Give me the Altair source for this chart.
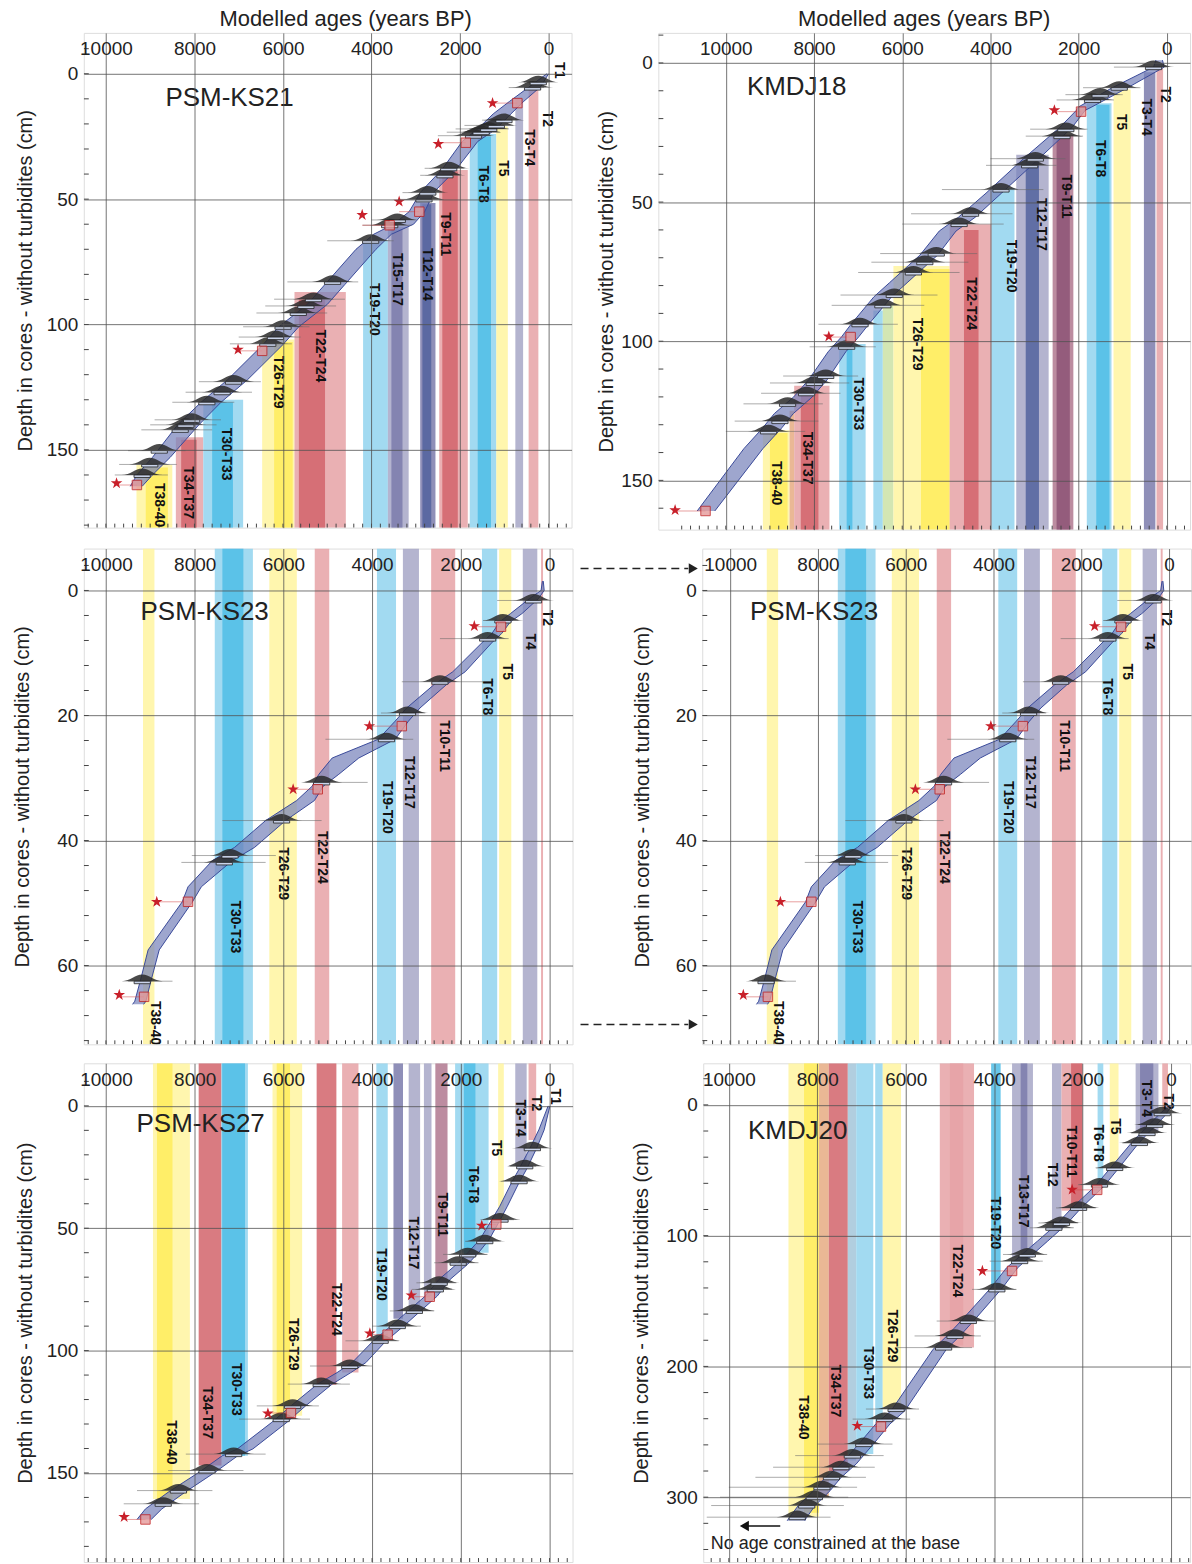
import altair as alt
import pandas as pd

FONT = "Liberation Sans"
INK = "#222222"
GRID = "#505050"

Y1 = "#fff5a0"; Y2 = "#ffec5c"; B1 = "#92d3ee"; B2 = "#4fbde6"
R1 = "#e6a2a6"; R2 = "#d2646b"; S1 = "#a7a7c7"; S2 = "#7b7bac"; S3 = "#52639e"
M1 = "#8d5475"; O1 = "#e6ab82"; G1 = "#cbe2a6"; GB = "#a3c6d9"; MR = "#b0788f"

AGE_TICKS = [10000, 8000, 6000, 4000, 2000, 0]
DEPTH_TITLE = "Depth in cores - without turbidites (cm)"

# ---------------- PSM-KS21 ----------------
ks21_bands = [  # (older age, younger age, colour, depth where band meets model)
    (9310, 8500, Y1, 156), (9100, 8600, Y2, 157),
    (8420, 7800, R1, 145), (8300, 7950, R2, 146),
    (7800, 6900, B1, 130), (7600, 7130, B2, 131),
    (6470, 5740, Y1, 106), (6200, 5780, Y2, 107),
    (5740, 4580, R1, 87), (5640, 5050, R2, 90),
    (4190, 3630, B1, 66.5),
    (3630, 3160, S1, 61), (3550, 3300, S2, 62),
    (2900, 2555, S2, 51.5), (2850, 2650, S3, 52),
    (2470, 1825, R1, 38.4), (2400, 2050, R2, 39),
    (1780, 1180, B1, 24), (1600, 1300, B2, 25),
    (1180, 920, Y1, 21),
    (750, 575, S1, 10),
    (450, 230, R1, 5.5),
]
ks21_labels = [("T1", -241, -1.4), ("T2", 43, 18), ("T3-T4", 447, 29.5), ("T5", 1024, 37.7),
               ("T6-T8", 1480, 44), ("T9-T11", 2341, 64), ("T12-T14", 2745, 80), ("T15-T17", 3417, 82),
               ("T19-T20", 3950, 94), ("T22-T24", 5155, 112.5), ("T26-T29", 6102, 123),
               ("T30-T33", 7289, 151.7), ("T34-T37", 8150, 167), ("T38-40", 8795, 172)]
ks21_env = [(0, 0, 40), (5, 170, 420), (11, 560, 880), (16, 850, 1250), (22, 1180, 1600),
            (27, 1600, 1950), (38, 2080, 2400), (47, 2580, 2880), (55, 2800, 3150), (60, 3050, 3500),
            (64, 3550, 3950), (70, 3900, 4350), (84, 4600, 5050), (92, 5000, 5450), (101, 5650, 6100),
            (108, 6000, 6450), (122, 6800, 7250), (131, 7400, 7850), (140, 7900, 8380),
            (153, 8550, 8950), (160, 8950, 9300), (164.5, 9180, 9450)]
ks21_spindles = [(232, 3.4, 0, 560), (361, 5.5, 100, 900), (1007, 18.5, 700, 1500), (1179, 20.6, 800, 1900),
                 (1351, 22, 900, 2100), (1523, 23.3, 1100, 2300), (1695, 24.7, 1300, 2500),
                 (2255, 37.7, 1900, 2800), (2341, 40.5, 2000, 2900), (2728, 47.4, 2400, 3300),
                 (2814, 50.1, 2400, 3400), (3417, 58.3, 3000, 4000), (3589, 60.4, 3100, 4200),
                 (4019, 66.6, 3500, 5000), (4880, 83, 4300, 5900), (5310, 89.9, 4600, 6200),
                 (5482, 92.6, 4800, 6400), (5654, 95.4, 5000, 6600), (5998, 100.9, 5400, 6900),
                 (6170, 105, 5600, 7000), (6343, 107.7, 5800, 7200), (7117, 122.8, 6500, 7900),
                 (7375, 127, 6700, 8200), (7720, 131, 7100, 8500), (8064, 138, 7400, 8900),
                 (8193, 140, 7500, 9000), (8322, 142, 7600, 9200), (8795, 150.3, 8200, 9500),
                 (9010, 155.8, 8400, 9700), (9182, 160, 8600, 9800)]
ks21_stars = [(1265, 11.7), (2490, 28), (3375, 51), (4210, 56.3), (7015, 110), (9760, 163.3)]
ks21_dated = [(705, 11.7), (1870, 27.5), (2920, 55), (3590, 60.4), (6470, 110.5), (9300, 164)]

# ---------------- KMDJ18 ----------------
kmdj18_bands = [
    (9160, 8555, Y1, 132), (9000, 8600, Y2, 133),
    (8555, 8450, O1, 125),
    (8450, 7650, R1, 116), (8300, 7900, R2, 118),
    (7430, 6830, B1, 101), (7260, 7130, B2, 102),
    (6655, 6440, B1, 89),
    (6440, 6200, G1, 87),
    (6200, 4925, Y1, 73), (5575, 4925, Y2, 74),
    (4925, 3975, R1, 58), (4600, 4270, R2, 60),
    (3975, 3455, B1, 45),
    (3415, 2680, S1, 33), (3200, 2900, S3, 34),
    (2590, 2120, MR, 25.7), (2500, 2200, M1, 26),
    (1815, 1255, B1, 14.5), (1600, 1300, B2, 15),
    (1210, 820, Y1, 9.5),
    (520, 260, S2, 3.3),
    (235, 85, R1, 2),
]
kmdj18_labels = [("T2", 43, 11.4), ("T3-T4", 475, 19.5), ("T5", 1037, 21.3), ("T6-T8", 1512, 34.4),
                 ("T9-T11", 2290, 48), ("T12-T17", 2852, 58), ("T19-T20", 3544, 73),
                 ("T22-T24", 4451, 86.5), ("T26-T29", 5661, 101), ("T30-T33", 7001, 122.5),
                 ("T34-T37", 8168, 142), ("T38-40", 8859, 151)]
kmdj18_env = [(-1, 100, 250), (1.5, 60, 300), (9, 900, 1250), (15.8, 1700, 2000), (17, 1850, 2050),
              (23.2, 2150, 2430), (34.4, 2900, 3250), (46.8, 3750, 4100), (55.5, 4350, 4730),
              (60.4, 4780, 5160), (69.1, 5200, 5600), (72.8, 5460, 5860), (79, 5890, 6290),
              (84, 6240, 6640), (93.9, 6760, 7160), (98.3, 6980, 7370), (103.8, 7280, 7680),
              (113.8, 7700, 8120), (120, 8040, 8460), (126, 8470, 8900), (131.1, 8730, 9160),
              (138.6, 9160, 9590), (161, 10250, 10650)]
kmdj18_spindles = [(302, 1.5, 0, 1200), (1080, 8.9, 600, 1900), (1512, 11.4, 1000, 2300),
                   (1685, 13.3, 1200, 2500), (2290, 23.8, 1800, 3100), (2377, 26.3, 1900, 3200),
                   (2982, 34.4, 2300, 4000), (3111, 36.8, 2500, 4100), (3760, 45.5, 2800, 5100),
                   (4451, 54.2, 3500, 5800), (4710, 57.9, 3700, 6000), (5229, 68.5, 4300, 6500),
                   (5488, 71.6, 4500, 6700), (5747, 75.3, 4700, 7000), (6180, 83.4, 5200, 7400),
                   (6439, 87.1, 5500, 7600), (6958, 93.9, 6100, 7900), (7260, 102, 6600, 8100),
                   (7735, 112.5, 7000, 8700), (7995, 115, 7200, 9000), (8168, 118.7, 7400, 9200),
                   (8600, 122.5, 7800, 9600), (8773, 128.7, 7900, 9800), (9032, 132.4, 8200, 10000)]
kmdj18_stars = [(2550, 17), (7665, 98.3), (11150, 160.7)]
kmdj18_dated = [(1945, 17.5), (7170, 98.5), (10460, 161)]

# ---------------- PSM-KS23 ----------------
ks23_bands = [
    (9165, 8907, Y1, None),
    (7547, 6687, B1, None), (7375, 6902, B2, None),
    (6317, 5697, Y1, None),
    (5293, 4966, R1, None),
    (3890, 3460, B1, None),
    (3305, 2943, S1, None),
    (2668, 2126, R1, None),
    (1523, 1179, B1, None),
    (1136, 861, Y1, None),
    (602, 275, S1, None),
    (190, 146, R1, None),
]
ks23_labels = [("T2", 60, 4.4), ("T4", 447, 8.2), ("T5", 964, 13), ("T6-T8", 1411, 17),
               ("T10-T11", 2384, 24.9), ("T12-T17", 3158, 30.7), ("T19-T20", 3675, 34.7),
               ("T22-T24", 5138, 42.7), ("T26-T29", 5998, 45.3), ("T30-T33", 7100, 53.8),
               ("T38-40", 8899, 69.2)]
ks23_env = [(-1.5, 140, 160), (0, 120, 190), (1.3, 250, 450), (3.7, 620, 880), (5, 880, 1120),
            (6.9, 1080, 1300), (8.2, 1280, 1500), (13, 1900, 2180), (15.1, 2330, 2610),
            (18.8, 2920, 3220), (20.9, 3180, 3480), (23.8, 3480, 3860), (26.8, 4300, 4900),
            (29.4, 4750, 5200), (31.3, 5100, 5350), (33.6, 5300, 5700), (36.8, 5950, 6400),
            (41.1, 6650, 7100), (43.2, 7150, 7600), (47.4, 7850, 8150), (49.8, 8050, 8280),
            (57.5, 8800, 9050), (62.3, 8980, 9220), (65.7, 9100, 9350), (66.2, 9150, 9400)]
ks23_spindles = [(361, 1.6, 232, 1180), (1050, 4.8, 700, 1500), (1394, 7.7, 920, 2470),
                 (2470, 14.6, 1265, 3330), (3201, 19.6, 2800, 3800), (3675, 23.8, 3072, 5052),
                 (5138, 30.7, 4100, 5500), (6041, 36.8, 5138, 7375), (7203, 42.4, 6170, 8064),
                 (7332, 43.5, 6400, 8300), (9182, 62.5, 8500, 9500)]
ks23_stars = [(1695, 5.7), (4060, 21.7), (5780, 31.8), (8855, 49.8), (9700, 64.7)]
ks23_dated = [(1093, 5.8), (3330, 21.7), (5225, 31.8), (8150, 49.8), (9140, 65)]

# ---------------- PSM-KS27 ----------------
ks27_bands = [
    (8940, 8108, Y1, 160.6), (8850, 8500, Y2, 161),
    (7910, 7395, R2, 147),
    (7400, 6800, B1, 143), (7380, 6865, B2, 143),
    (6245, 5577, Y1, 126.6), (6150, 5850, Y2, 127),
    (5250, 4805, R2, 114),
    (4676, 4307, R1, 109),
    (3904, 3647, B1, 95.4),
    (3518, 3303, S2, 87),
    (3175, 2917, S1, 83),
    (2831, 2660, S1, 77.7),
    (2574, 2299, MR, 72),
    (2128, 1373, B1, 60), (1930, 1670, B2, 61),
    (1158, 1030, Y1, 46.5),
    (772, 515, S1, 24.7),
    (472, 300, R1, 13.9),
]
ks27_labels = [("T1", -129, -3.8), ("T2", 300, -1.1), ("T3-T4", 669, 5), ("T5", 1201, 17.3),
               ("T6-T8", 1716, 32.2), ("T9-T11", 2428, 44.4), ("T12-T17", 3072, 56),
               ("T19-T20", 3801, 68.9), ("T22-T24", 4805, 83.2), ("T26-T29", 5792, 97.4),
               ("T30-T33", 7079, 115.8), ("T34-T37", 7722, 125.3), ("T38-40", 8537, 137.5)]
ks27_env = [(0, -10, 30), (9.8, 120, 240), (17.3, 290, 440), (26, 520, 690), (31.5, 690, 860),
            (41, 950, 1120), (46.5, 1110, 1300), (54.6, 1360, 1570), (60, 1600, 1840),
            (64.8, 1850, 2100), (70.9, 2240, 2490), (77.7, 2530, 2800), (84.5, 2950, 3230),
            (90, 3290, 3580), (94, 3550, 3840), (96.7, 3720, 4010), (104.9, 4140, 4450),
            (109, 4480, 4790), (113.7, 4900, 5230), (122.6, 5500, 5830), (125.3, 5670, 6000),
            (129.3, 5920, 6260), (140.2, 6690, 7040), (143, 7030, 7380), (149.7, 7540, 7900),
            (157.9, 8220, 8600), (164.7, 8740, 9110), (169, 8980, 9300)]
ks27_spindles = [(386, 17.3, 200, 600), (558, 24.7, 300, 900), (686, 30.8, 400, 1100),
                 (1115, 46.5, 800, 1500), (1459, 55.3, 1100, 1900), (1845, 60.7, 1400, 2400),
                 (2059, 64.1, 1600, 2600), (2488, 72.3, 2100, 3000), (2574, 75, 2200, 3100),
                 (3046, 83.8, 2600, 3600), (3432, 90, 2900, 4000), (3818, 96, 3400, 4600),
                 (4504, 106.3, 4000, 5400), (5148, 113.7, 4500, 5900), (5791, 122.6, 5200, 6600),
                 (6049, 128, 5400, 7000), (7121, 142.3, 6400, 8200), (7722, 149, 6900, 8600),
                 (8366, 157.2, 7600, 9300), (8709, 162.6, 7900, 9600)]
ks27_stars = [(1527, 48.9), (3115, 77.4), (4050, 93), (6349, 125.7), (9590, 168)]
ks27_dated = [(1200, 48.5), (2700, 78), (3650, 93.5), (5830, 125.5), (9110, 169)]

# ---------------- KMDJ20 ----------------
kmdj20_bands = [
    (8652, 7964, Y1, 315), (8300, 7964, Y2, 312),
    (7964, 7740, O1, 300),
    (7740, 7310, R2, 280),
    (7310, 7120, GB, 272),
    (7120, 6734, B1, 267),
    (6690, 6520, B1, 250),
    (6520, 6106, Y1, 231),
    (5229, 4455, R1, 185.6), (5000, 4700, R1, 184),
    (4068, 3853, B2, 140),
    (3595, 3122, S1, 117), (3400, 3250, S2, 118),
    (2692, 2477, S1, 94),
    (2477, 2004, R1, 81), (2260, 2004, R2, 80),
    (1660, 1531, B1, 63.6),
    (1385, 1187, Y1, 48.3),
    (800, 284, S1, 20.3), (700, 400, S2, 19),
    (198, 69, R1, 5),
]
kmdj20_labels = [("T2", 69, -2.5), ("T3-T4", 568, -5), ("T5", 1256, 16.5), ("T6-T8", 1660, 29.2),
                 ("T10-T11", 2262, 35.6), ("T12", 2692, 53.4), ("T13-T17", 3354, 73.7),
                 ("T19-T20", 3982, 90.3), ("T22-T24", 4842, 127), ("T26-T29", 6304, 176.7),
                 ("T30-T33", 6846, 204.7), ("T34-T37", 7594, 218.7), ("T38-40", 8325, 239)]
kmdj20_env = [(0, -20, 20), (7.6, 120, 280), (15.3, 330, 500), (24.2, 590, 760), (30.5, 760, 930),
              (48.3, 1180, 1370), (62.3, 1520, 1720), (78.8, 2030, 2240), (91.5, 2370, 2590),
              (104.2, 2790, 3020), (114.4, 3130, 3370), (124.6, 3470, 3720), (139.8, 3810, 4070),
              (162.7, 4400, 4680), (175.4, 4740, 5030), (186.9, 5080, 5380), (233.9, 6020, 6330),
              (244.1, 6360, 6680), (258.1, 6700, 7030), (274.6, 7120, 7460), (284.8, 7460, 7810),
              (295, 7710, 8080), (306.4, 8050, 8430), (316.5, 8260, 8650), (318, 8280, 8680)]
kmdj20_spindles = [(198, 6.4, 50, 400), (370, 15.3, 150, 650), (542, 21.6, 300, 900),
                   (714, 29.2, 450, 1100), (1273, 48.3, 1000, 1700), (1617, 61, 1300, 2100),
                   (2090, 78.8, 1700, 2600), (2477, 90.3, 2100, 3000), (2649, 94, 2200, 3200),
                   (3251, 114.4, 2800, 3800), (3423, 119.5, 2900, 4100), (3939, 141.1, 3500, 4500),
                   (4584, 165.3, 4000, 5300), (4885, 176.7, 4300, 5800), (5143, 185.6, 4500, 6200),
                   (6218, 232.6, 5700, 6900), (6476, 240.3, 5900, 7200), (6949, 259.4, 6300, 8000),
                   (7207, 268.2, 6500, 8500), (7465, 277.1, 6700, 9000), (7680, 284.8, 6900, 9400),
                   (7895, 292.4, 7100, 10000), (8067, 300, 7300, 10200), (8239, 306.4, 7400, 10400),
                   (8454, 315.3, 7700, 10500)]
kmdj20_stars = [(2236, 64.8), (4266, 127), (7095, 245.4)]
kmdj20_dated = [(1670, 65), (3595, 127), (6560, 246)]

base_note = [("No age constrained at the base", 10410, 336)]
base_arrow = [(8838, 9650, 322)]

HUMP = "M-1,0C-0.55,0 -0.35,-0.32 0,-0.32C0.35,-0.32 0.55,0 1,0Z"
BOX = "M-0.42,0L0.42,0L0.42,0.13L-0.42,0.13Z"
STAR = ("M0,-1L0.2245,-0.309L0.951,-0.309L0.363,0.118L0.588,0.809L0,0.382"
        "L-0.588,0.809L-0.363,0.118L-0.951,-0.309L-0.2245,-0.309Z")


def panel(name, name_pos, bands, mode, labels, env, spindles, stars, dated,
          xdom, ydom, yvals, ystep, w, h, title_pad, title=None, title_dx=0, extra=None):
    xs = alt.Scale(domain=xdom, reverse=True, nice=False, zero=False)
    ys = alt.Scale(domain=ydom, reverse=True, nice=False, zero=False)
    x_axis = alt.Axis(orient="top", values=AGE_TICKS, format="d", ticks=False, domain=False,
                      labelPadding=-16, labelBaseline="middle", labelFont=FONT, labelFontSize=19,
                      labelColor=INK, grid=True, gridColor=GRID, gridWidth=0.8, zindex=1)
    y_axis = alt.Axis(orient="left", values=yvals, format="d", ticks=False, domain=False,
                      labelPadding=6, labelFont=FONT, labelFontSize=19, labelColor=INK,
                      grid=True, gridColor=GRID, gridWidth=0.8, zindex=1,
                      titleFont=FONT, titleFontSize=20, titleFontWeight="normal",
                      titleColor=INK, titlePadding=title_pad)

    def X(f):
        return alt.X(f, scale=xs, axis=x_axis, title=None)

    def Y(f):
        return alt.Y(f, scale=ys, axis=y_axis, title=DEPTH_TITLE)

    rows = []
    for old, young, col, d in bands:
        if mode == "below":
            y0, y1 = d, ydom[1]
        elif mode == "above":
            y0, y1 = ydom[0], d
        else:
            y0, y1 = ydom[0], ydom[1]
        rows.append({"x": old, "x2": young, "y": y0, "y2": y1, "c": col})
    band_df = pd.DataFrame(rows)

    base = alt.Chart(band_df).mark_rect(opacity=0.85, clip=True).encode(
        x=X("x:Q"), x2="x2:Q", y=Y("y:Q"), y2="y2:Q",
        color=alt.Color("c:N", scale=None),
    )

    xminor = pd.DataFrame({"t": list(range(-400, 11001, 200))})
    xminor = xminor[(xminor.t > xdom[0]) & (xminor.t < xdom[1])]
    yminor = pd.DataFrame({"t": list(range(-40, 400, ystep))})
    yminor = yminor[(yminor.t > ydom[0]) & (yminor.t < ydom[1])]
    bt = alt.Chart(xminor).mark_rule(color="#444", strokeWidth=1, clip=True).encode(
        x=X("t:Q"), y=alt.value(h - 4), y2=alt.value(h))
    lt = alt.Chart(yminor).mark_rule(color="#444", strokeWidth=1, clip=True).encode(
        y=Y("t:Q"), x=alt.value(0), x2=alt.value(5))

    env_df = pd.DataFrame(env, columns=["d", "young", "old"])
    area = alt.Chart(env_df).mark_area(orient="horizontal", color="#7884bb", opacity=0.72,
                                       clip=True).encode(
        y=Y("d:Q"), x=X("young:Q"), x2="old:Q")
    edge1 = alt.Chart(env_df).mark_line(color="#3a4a9a", strokeWidth=1, clip=True).encode(
        y=Y("d:Q"), x=X("young:Q"), order="d:Q")
    edge2 = alt.Chart(env_df).mark_line(color="#3a4a9a", strokeWidth=1, clip=True).encode(
        y=Y("d:Q"), x=X("old:Q"), order="d:Q")

    sp_df = pd.DataFrame(spindles, columns=["a", "d", "lo", "hi"])
    tails = alt.Chart(sp_df).mark_rule(color="#666", strokeWidth=1, opacity=0.55, clip=True).encode(
        x=X("lo:Q"), x2="hi:Q", y=Y("d:Q"))
    humps = alt.Chart(sp_df).mark_point(shape=HUMP, filled=True, color="#2a2a2a", opacity=0.85,
                                        size=1700, clip=True).encode(x=X("a:Q"), y=Y("d:Q"))
    boxes = alt.Chart(sp_df).mark_point(shape=BOX, filled=True, fill="#c9d3ea", stroke="#222",
                                        strokeWidth=0.8, opacity=1, size=1500, clip=True).encode(
        x=X("a:Q"), y=Y("d:Q"))

    st_df = pd.DataFrame(stars, columns=["a", "d"])
    dt_df = pd.DataFrame(dated, columns=["a", "d"])
    red_line = alt.Chart(dt_df.assign(a2=st_df["a"].values)).mark_rule(
        color="#d04040", strokeWidth=1, opacity=0.5, clip=True).encode(
        x=X("a:Q"), x2="a2:Q", y=Y("d:Q"))
    red_box = alt.Chart(dt_df).mark_point(shape="square", filled=True, fill="#e59a9a", stroke="#c02020",
                                          strokeWidth=1, opacity=0.8, size=90, clip=True).encode(
        x=X("a:Q"), y=Y("d:Q"))
    star_m = alt.Chart(st_df).mark_point(shape=STAR, filled=True, color="#c8202a", opacity=1,
                                         size=150, clip=True).encode(x=X("a:Q"), y=Y("d:Q"))

    lab_df = pd.DataFrame(labels, columns=["t", "a", "d"])
    labs = alt.Chart(lab_df).mark_text(angle=90, font=FONT, fontSize=14, fontWeight="bold",
                                       color="#111", align="center", baseline="middle",
                                       clip=True).encode(
        x=X("a:Q"), y=Y("d:Q"), text="t:N")

    nm = alt.Chart(pd.DataFrame({"t": [name], "a": [name_pos[0]], "d": [name_pos[1]]})).mark_text(
        font=FONT, fontSize=26, color=INK, align="left", baseline="middle", clip=True).encode(
        x=X("a:Q"), y=Y("d:Q"), text="t:N")

    layers = [base, bt, lt, area, edge1, edge2, tails, humps, boxes, red_line, red_box, star_m, labs, nm]
    if extra is not None:
        layers += extra(X, Y)
    ch = alt.layer(*layers).properties(width=w, height=h)
    if title:
        ch = ch.properties(title=alt.TitleParams(title, font=FONT, fontSize=22, fontWeight="normal",
                                                 color=INK, frame="group", anchor="middle",
                                                 offset=2, dx=title_dx))
    return ch


def arrows(X, Y):
    out = []
    for yy in [20, 477]:
        out.append(alt.Chart(pd.DataFrame({"k": [0]})).mark_rule(
            color="#222", strokeWidth=1.5, strokeDash=[8, 5]).encode(
            x=alt.value(-122), x2=alt.value(-14), y=alt.value(yy)))
        out.append(alt.Chart(pd.DataFrame({"k": [0]})).mark_point(
            shape="triangle-right", filled=True, color="#222", size=110, opacity=1).encode(
            x=alt.value(-9), y=alt.value(yy)))
    return out


def note(X, Y):
    t_df = pd.DataFrame(base_note, columns=["t", "a", "d"])
    a_df = pd.DataFrame(base_arrow, columns=["a", "a2", "d"])
    return [
        alt.Chart(t_df).mark_text(font=FONT, fontSize=18, color=INK, align="left",
                                  baseline="middle").encode(x=X("a:Q"), y=Y("d:Q"), text="t:N"),
        alt.Chart(a_df).mark_rule(color="#111", strokeWidth=1.5).encode(
            x=X("a:Q"), x2="a2:Q", y=Y("d:Q")),
        alt.Chart(a_df).mark_point(shape="triangle-left", filled=True, color="#111", size=110,
                                   opacity=1).encode(x=X("a2:Q"), y=Y("d:Q")),
    ]


p1 = panel("PSM-KS21", (8655, 9.5), ks21_bands, "below", ks21_labels, ks21_env, ks21_spindles,
           ks21_stars, ks21_dated, [-520, 10500], [-16.3, 181], [0, 50, 100, 150], 10, 489, 496,
           11, title="Modelled ages (years BP)", title_dx=18)
p2 = panel("KMDJ18", (9520, 8.6), kmdj18_bands, "below", kmdj18_labels, kmdj18_env, kmdj18_spindles,
           kmdj18_stars, kmdj18_dated, [-525, 11530], [-10.8, 167.7], [0, 50, 100, 150], 10, 533, 498,
           4, title="Modelled ages (years BP)")
p3 = panel("PSM-KS23", (9220, 3.5), ks23_bands, "full", ks23_labels, ks23_env, ks23_spindles,
           ks23_stars, ks23_dated, [-520, 10500], [-6.7, 72.6], [0, 20, 40, 60], 4, 490, 497, 24)
p4 = panel("PSM-KS23", (9550, 3.5), ks23_bands, "full", ks23_labels, ks23_env, ks23_spindles,
           ks23_stars, ks23_dated, [-500, 10636], [-6.7, 72.6], [0, 20, 40, 60], 4, 490, 497, 23,
           extra=arrows)
p5 = panel("PSM-KS27", (9310, 7.3), ks27_bands, "above", ks27_labels, ks27_env, ks27_spindles,
           ks27_stars, ks27_dated, [-520, 10500], [-17.4, 186.4], [0, 50, 100, 150], 10, 490, 500, 11)
p6 = panel("KMDJ20", (9567, 19.7), kmdj20_bands, "above", kmdj20_labels, kmdj20_env, kmdj20_spindles,
           kmdj20_stars, kmdj20_dated, [-430, 10580], [-31.8, 349.6], [0, 100, 200, 300], 20, 488, 500,
           14, extra=note)

row1 = alt.hconcat(p1, p2, spacing=23)
row2 = alt.hconcat(p3, p4, spacing=5)
row3 = alt.hconcat(p5, p6, spacing=57)

chart = alt.vconcat(row1, row2, row3, spacing=17).configure_view(
    stroke="#444", strokeWidth=1.3
).configure(
    padding={"left": 12, "top": 5, "right": 0, "bottom": 0}, background="white"
)

chart.save("out.html", embed_options={"renderer": "svg", "actions": False})
